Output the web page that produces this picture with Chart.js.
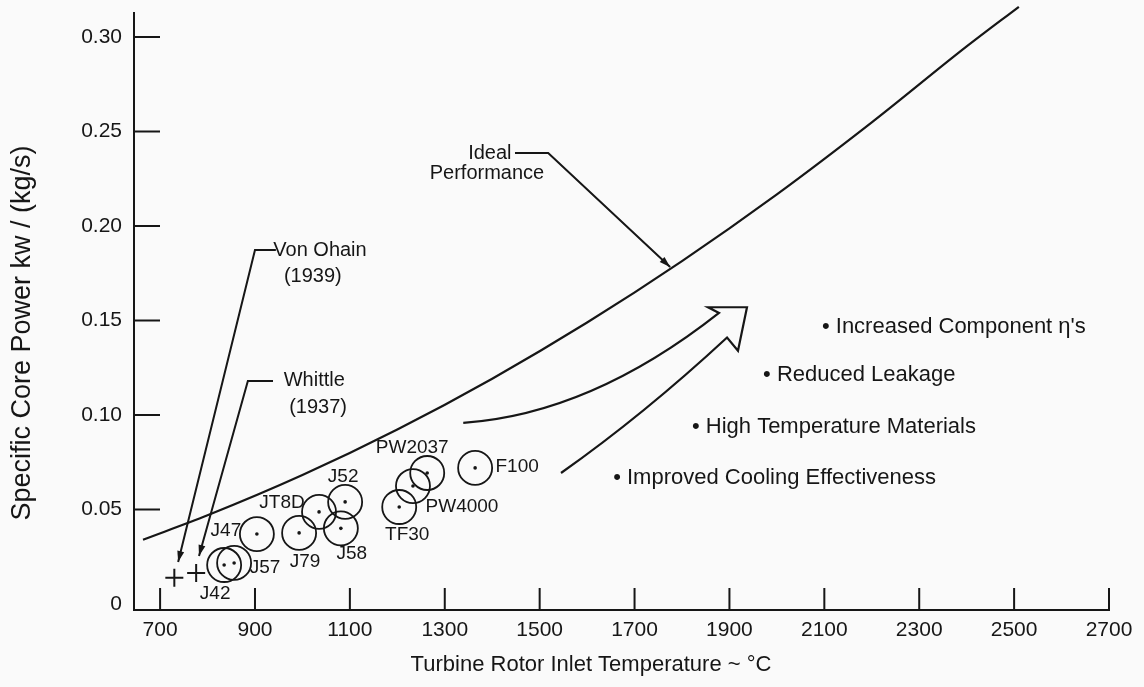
<!DOCTYPE html>
<html>
<head>
<meta charset="utf-8">
<script src="https://cdn.jsdelivr.net/npm/chart.js@4.4.0/dist/chart.umd.min.js"></script>
<style>
  html, body { margin: 0; padding: 0; background: #fafafa; }
</style>
</head>
<body>
<canvas id="myChart" width="1144" height="687"></canvas>
<script>
// ideal performance curve
let idealTemp = [664, 800, 1000, 1200, 1400, 1600, 1800, 2000, 2200, 2400, 2510];
let idealPower = [0.034, 0.0469, 0.0682, 0.0923, 0.1192, 0.1489, 0.1814, 0.2167, 0.2548, 0.2950, 0.316];

// engines (circles)
let engineNames = ['J42', 'J57', 'J47', 'J79', 'JT8D', 'J52', 'J58', 'TF30', 'PW4000', 'PW2037', 'F100'];
let engineTemp = [835, 856, 904, 993, 1035, 1090, 1081, 1204, 1233, 1263, 1364];
let enginePower = [0.0206, 0.0217, 0.037, 0.0376, 0.0487, 0.054, 0.040, 0.0513, 0.0624, 0.0693, 0.072];

// first jet engines (crosses)
let earlyNames = ['Von Ohain (1939)', 'Whittle (1937)'];
let earlyTemp = [730, 776];
let earlyPower = [0.0138, 0.0164];

let xTicks = [700, 900, 1100, 1300, 1500, 1700, 1900, 2100, 2300, 2500, 2700];
let yTicks = [0, 0.05, 0.10, 0.15, 0.20, 0.25, 0.30];

let improvements = ["Increased Component \u03b7's", 'Reduced Leakage', 'High Temperature Materials', 'Improved Cooling Effectiveness'];

// where the engine names sit, in pixels from the point
const labelOffsets = {
    'J42': [-9, 29], 'J57': [31, 5], 'J47': [-31, -3], 'J79': [6, 29], 'JT8D': [-37, -9],
    'J52': [-2, -25], 'J58': [11, 25], 'TF30': [8, 28], 'PW4000': [49, 21], 'PW2037': [-15, -25], 'F100': [42, -1]
};

// annotation anchors, in data units
const improvementAt = [[2095, 0.1466], [1971, 0.1212], [1821, 0.0937], [1655, 0.0667]];

const ink = '#161616';
const FONT = '"Liberation Sans", Arial, sans-serif';

function toXY(data1, data2) {
    return data1.map((v, i) => ({x: v, y: data2[i]}));
}

function arrowHead(ctx, fx, fy, tx, ty) {
    let a = Math.atan2(ty - fy, tx - fx);
    let len = 11, w = 3.5;
    ctx.beginPath();
    ctx.moveTo(tx, ty);
    ctx.lineTo(tx - len * Math.cos(a) + w * Math.sin(a), ty - len * Math.sin(a) - w * Math.cos(a));
    ctx.lineTo(tx - len * Math.cos(a) - w * Math.sin(a), ty - len * Math.sin(a) + w * Math.cos(a));
    ctx.closePath();
    ctx.fill();
}

const innerTicks = {
    id: 'innerTicks',
    afterDraw(chart) {
        const {ctx, chartArea, scales: {x, y}} = chart;
        ctx.save();
        ctx.strokeStyle = ink;
        ctx.lineWidth = 2;
        ctx.beginPath();
        xTicks.forEach(v => {
            let px = x.getPixelForValue(v);
            ctx.moveTo(px, chartArea.bottom);
            ctx.lineTo(px, chartArea.bottom - 22);
        });
        yTicks.forEach(v => {
            if (v === 0) return;
            let py = y.getPixelForValue(v);
            ctx.moveTo(chartArea.left, py);
            ctx.lineTo(chartArea.left + 26, py);
        });
        ctx.stroke();
        ctx.restore();
    }
};

const notes = {
    id: 'notes',
    afterDraw(chart) {
        const {ctx, scales: {x, y}} = chart;
        const P = (t, p) => [x.getPixelForValue(t), y.getPixelForValue(p)];
        ctx.save();
        ctx.fillStyle = ink;
        ctx.strokeStyle = ink;
        ctx.textAlign = 'center';
        ctx.textBaseline = 'middle';

        // engine names
        ctx.font = '19px ' + FONT;
        engineNames.forEach((name, i) => {
            let [px, py] = P(engineTemp[i], enginePower[i]);
            let off = labelOffsets[name];
            ctx.fillText(name, px + off[0], py + off[1]);
        });

        ctx.font = '20px ' + FONT;
        // Ideal performance label and leader
        let t;
        t = P(1395, 0.2386); ctx.fillText('Ideal', t[0], t[1]);
        t = P(1389, 0.228); ctx.fillText('Performance', t[0], t[1]);
        ctx.lineWidth = 2;
        let a = P(1448, 0.2386), b = P(1518, 0.2386), c = P(1775, 0.1783);
        ctx.beginPath(); ctx.moveTo(a[0], a[1]); ctx.lineTo(b[0], b[1]); ctx.lineTo(c[0], c[1]); ctx.stroke();
        arrowHead(ctx, b[0], b[1], c[0], c[1]);

        // Von Ohain
        t = P(1037, 0.1873); ctx.fillText('Von Ohain', t[0], t[1]);
        t = P(1022, 0.1735); ctx.fillText('(1939)', t[0], t[1]);
        a = P(944, 0.1873); b = P(900, 0.1873); c = P(738, 0.0222);
        ctx.beginPath(); ctx.moveTo(a[0], a[1]); ctx.lineTo(b[0], b[1]); ctx.lineTo(c[0], c[1]); ctx.stroke();
        arrowHead(ctx, b[0], b[1], c[0], c[1]);

        // Whittle
        t = P(1025, 0.118); ctx.fillText('Whittle', t[0], t[1]);
        t = P(1033, 0.1042); ctx.fillText('(1937)', t[0], t[1]);
        a = P(938, 0.118); b = P(885, 0.118); c = P(782, 0.0254);
        ctx.beginPath(); ctx.moveTo(a[0], a[1]); ctx.lineTo(b[0], b[1]); ctx.lineTo(c[0], c[1]); ctx.stroke();
        arrowHead(ctx, b[0], b[1], c[0], c[1]);

        // big open arrow
        let us = P(1339, 0.0958), uc = P(1608, 0.1005), ue = P(1878, 0.154);
        let w1 = P(1855, 0.157), tip = P(1937, 0.157), w2 = P(1918, 0.134);
        let le = P(1895, 0.141), lc = P(1720, 0.1003), ls = P(1545, 0.0693);
        ctx.lineWidth = 2.2;
        ctx.lineJoin = 'miter';
        ctx.beginPath();
        ctx.moveTo(us[0], us[1]);
        ctx.quadraticCurveTo(uc[0], uc[1], ue[0], ue[1]);
        ctx.lineTo(w1[0], w1[1]);
        ctx.lineTo(tip[0], tip[1]);
        ctx.lineTo(w2[0], w2[1]);
        ctx.lineTo(le[0], le[1]);
        ctx.quadraticCurveTo(lc[0], lc[1], ls[0], ls[1]);
        ctx.stroke();

        // list of improvements
        ctx.textAlign = 'left';
        ctx.font = '22px ' + FONT;
        improvements.forEach((txt, i) => {
            let q = P(improvementAt[i][0], improvementAt[i][1]);
            ctx.fillText('\u2022 ' + txt, q[0], q[1]);
        });

        // axis titles
        ctx.textAlign = 'center';
        ctx.font = '22px ' + FONT;
        ctx.fillText('Turbine Rotor Inlet Temperature ~ \u00b0C', 591, 665);
        ctx.font = '27px ' + FONT;
        ctx.translate(23, 333);
        ctx.rotate(-Math.PI / 2);
        ctx.fillText('Specific Core Power kw / (kg/s)', 0, 0);
        ctx.restore();
    }
};

const myChart = document.getElementById('myChart');

let chart = new Chart(myChart, {
    type: 'scatter',
    data: {
        datasets: [{
            label: 'Ideal Performance',
            data: toXY(idealTemp, idealPower),
            showLine: true,
            pointRadius: 0,
            borderColor: ink,
            borderWidth: 2.2,
            tension: 0.4,
            cubicInterpolationMode: 'monotone',
            clip: false
        }, {
            label: 'Engines',
            data: toXY(engineTemp, enginePower),
            pointRadius: 17,
            pointStyle: 'circle',
            borderColor: ink,
            borderWidth: 1.8,
            backgroundColor: 'rgba(0,0,0,0)'
        }, {
            label: 'Engine centres',
            data: toXY(engineTemp, enginePower),
            pointRadius: 1.8,
            borderWidth: 0,
            backgroundColor: ink
        }, {
            label: 'Early engines',
            data: toXY(earlyTemp, earlyPower),
            pointStyle: 'cross',
            pointRadius: 9,
            borderWidth: 2,
            borderColor: ink
        }]
    },
    options: {
        responsive: false,
        animation: false,
        layout: {
            autoPadding: false,
            padding: {top: 13, right: 35, bottom: 0, left: 0}
        },
        plugins: {
            legend: {display: false},
            tooltip: {enabled: false}
        },
        scales: {
            x: {
                type: 'linear',
                min: 645,
                max: 2700,
                afterBuildTicks: s => { s.ticks = xTicks.map(v => ({value: v})); },
                afterFit: s => { s.height = 77; s.paddingLeft = 0; s.paddingRight = 0; },
                grid: {drawOnChartArea: false, drawTicks: false},
                border: {display: true, color: ink, width: 2},
                ticks: {
                    color: ink,
                    font: {family: FONT, size: 21},
                    padding: 8,
                    maxRotation: 0,
                    autoSkip: false,
                    callback: v => String(v)
                }
            },
            y: {
                type: 'linear',
                min: -0.0032,
                max: 0.3127,
                afterBuildTicks: s => { s.ticks = yTicks.map(v => ({value: v})); },
                afterFit: s => { s.width = 134; s.paddingTop = 0; s.paddingBottom = 0; },
                grid: {drawOnChartArea: false, drawTicks: false},
                border: {display: true, color: ink, width: 2},
                ticks: {
                    color: ink,
                    font: {family: FONT, size: 21},
                    padding: 12,
                    callback: v => v === 0 ? '0' : v.toFixed(2)
                }
            }
        }
    },
    plugins: [innerTicks, notes]
});
</script>
</body>
</html>
